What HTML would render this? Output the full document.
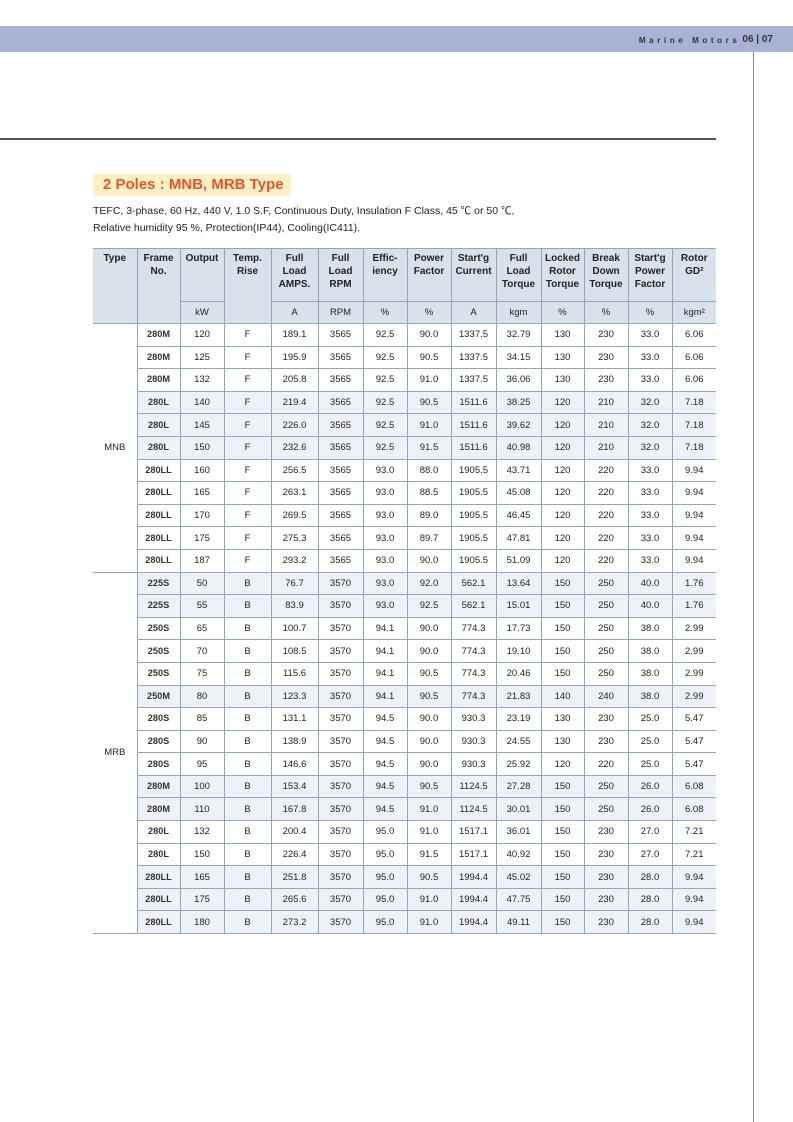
<!DOCTYPE html>
<html><head><meta charset="utf-8"><style>
*{margin:0;padding:0;box-sizing:border-box}
body{width:793px;height:1122px;background:#fff;position:relative;font-family:"Liberation Sans","Noto Sans CJK KR",sans-serif;color:#222;overflow:hidden}
.band{position:absolute;left:0;top:26px;width:793px;height:26px;background:#a9b3d6}
.band span{position:absolute;right:20px;top:9px;font-size:8px;font-weight:bold;color:#333;letter-spacing:3.6px}
.band b{font-size:10px;letter-spacing:0;margin-left:2px;top:-1px;position:relative}
.vline{position:absolute;left:753px;top:52px;width:1px;height:1070px;background:#7a86a8}
.hline{position:absolute;left:0;top:138px;width:716px;height:2px;background:#555}
.title{position:absolute;left:93px;top:174px;width:198px;height:22px;background:#fdf0c6;color:#e8542a;font-weight:bold;font-size:15px;line-height:22px;padding-left:10px;border-radius:2px}
.desc{position:absolute;left:93px;top:203px;font-size:10.5px;line-height:17px;color:#222}
table{position:absolute;left:93px;top:248px;border-collapse:collapse;table-layout:fixed;width:623px;font-size:9.5px}
td,th{border:1px solid #8fa6bf;text-align:center;vertical-align:middle;padding:0}
th{background:#d9e1eb;font-weight:bold;font-size:10px;line-height:13px;vertical-align:top;padding-top:3px}
tr.u th{font-weight:normal;vertical-align:middle;padding-top:0;height:22px;font-size:9.5px}
td{height:22.6px;line-height:11px}
td.t{border-left:none;border-top:none;border-bottom:none;background:#fff}
tr.g td.t{border-top:1px solid #8fa6bf}
tr.last td.t{border-bottom:1px solid #8fa6bf}
th.t{border-left:none}
th:last-child,td:last-child{border-right:none}
tr.s td:not(.t){background:#eef1f6}
td.f{font-weight:bold;color:#333;font-size:9.2px}
</style></head><body>
<div class="band"><span>Marine Motors<b>06 | 07</b></span></div>
<div class="vline"></div>
<div class="hline"></div>
<div class="title">2 Poles : MNB, MRB Type</div>
<div class="desc">TEFC, 3-phase, 60 Hz, 440 V, 1.0 S.F, Continuous Duty, Insulation F Class, 45 ℃ or 50 ℃,<br>Relative humidity 95 %, Protection(IP44), Cooling(IC411).</div>
<table>
<colgroup><col style="width:44px"><col style="width:43px"><col style="width:44px"><col style="width:47px"><col style="width:47px"><col style="width:45px"><col style="width:44px"><col style="width:44px"><col style="width:45px"><col style="width:45px"><col style="width:43px"><col style="width:44px"><col style="width:44px"><col style="width:44px"></colgroup>
<tr style="height:53px"><th class="t" rowspan="2">Type</th><th rowspan="2">Frame<br>No.</th><th>Output</th><th rowspan="2">Temp.<br>Rise</th><th>Full<br>Load<br>AMPS.</th><th>Full<br>Load<br>RPM</th><th>Effic-<br>iency</th><th>Power<br>Factor</th><th>Start'g<br>Current</th><th>Full<br>Load<br>Torque</th><th>Locked<br>Rotor<br>Torque</th><th>Break<br>Down<br>Torque</th><th>Start'g<br>Power<br>Factor</th><th>Rotor<br>GD²</th></tr>
<tr class="u"><th>kW</th><th>A</th><th>RPM</th><th>%</th><th>%</th><th>A</th><th>kgm</th><th>%</th><th>%</th><th>%</th><th>kgm²</th></tr>
<tr class="g"><td class="t" rowspan="11">MNB</td><td class="f">280M</td><td>120</td><td>F</td><td>189.1</td><td>3565</td><td>92.5</td><td>90.0</td><td>1337.5</td><td>32.79</td><td>130</td><td>230</td><td>33.0</td><td>6.06</td></tr>
<tr><td class="f">280M</td><td>125</td><td>F</td><td>195.9</td><td>3565</td><td>92.5</td><td>90.5</td><td>1337.5</td><td>34.15</td><td>130</td><td>230</td><td>33.0</td><td>6.06</td></tr>
<tr><td class="f">280M</td><td>132</td><td>F</td><td>205.8</td><td>3565</td><td>92.5</td><td>91.0</td><td>1337.5</td><td>36.06</td><td>130</td><td>230</td><td>33.0</td><td>6.06</td></tr>
<tr class="s"><td class="f">280L</td><td>140</td><td>F</td><td>219.4</td><td>3565</td><td>92.5</td><td>90.5</td><td>1511.6</td><td>38.25</td><td>120</td><td>210</td><td>32.0</td><td>7.18</td></tr>
<tr class="s"><td class="f">280L</td><td>145</td><td>F</td><td>226.0</td><td>3565</td><td>92.5</td><td>91.0</td><td>1511.6</td><td>39.62</td><td>120</td><td>210</td><td>32.0</td><td>7.18</td></tr>
<tr class="s"><td class="f">280L</td><td>150</td><td>F</td><td>232.6</td><td>3565</td><td>92.5</td><td>91.5</td><td>1511.6</td><td>40.98</td><td>120</td><td>210</td><td>32.0</td><td>7.18</td></tr>
<tr><td class="f">280LL</td><td>160</td><td>F</td><td>256.5</td><td>3565</td><td>93.0</td><td>88.0</td><td>1905.5</td><td>43.71</td><td>120</td><td>220</td><td>33.0</td><td>9.94</td></tr>
<tr><td class="f">280LL</td><td>165</td><td>F</td><td>263.1</td><td>3565</td><td>93.0</td><td>88.5</td><td>1905.5</td><td>45.08</td><td>120</td><td>220</td><td>33.0</td><td>9.94</td></tr>
<tr><td class="f">280LL</td><td>170</td><td>F</td><td>269.5</td><td>3565</td><td>93.0</td><td>89.0</td><td>1905.5</td><td>46.45</td><td>120</td><td>220</td><td>33.0</td><td>9.94</td></tr>
<tr><td class="f">280LL</td><td>175</td><td>F</td><td>275.3</td><td>3565</td><td>93.0</td><td>89.7</td><td>1905.5</td><td>47.81</td><td>120</td><td>220</td><td>33.0</td><td>9.94</td></tr>
<tr><td class="f">280LL</td><td>187</td><td>F</td><td>293.2</td><td>3565</td><td>93.0</td><td>90.0</td><td>1905.5</td><td>51.09</td><td>120</td><td>220</td><td>33.0</td><td>9.94</td></tr>
<tr class="g s last"><td class="t" rowspan="16">MRB</td><td class="f">225S</td><td>50</td><td>B</td><td>76.7</td><td>3570</td><td>93.0</td><td>92.0</td><td>562.1</td><td>13.64</td><td>150</td><td>250</td><td>40.0</td><td>1.76</td></tr>
<tr class="s"><td class="f">225S</td><td>55</td><td>B</td><td>83.9</td><td>3570</td><td>93.0</td><td>92.5</td><td>562.1</td><td>15.01</td><td>150</td><td>250</td><td>40.0</td><td>1.76</td></tr>
<tr><td class="f">250S</td><td>65</td><td>B</td><td>100.7</td><td>3570</td><td>94.1</td><td>90.0</td><td>774.3</td><td>17.73</td><td>150</td><td>250</td><td>38.0</td><td>2.99</td></tr>
<tr><td class="f">250S</td><td>70</td><td>B</td><td>108.5</td><td>3570</td><td>94.1</td><td>90.0</td><td>774.3</td><td>19.10</td><td>150</td><td>250</td><td>38.0</td><td>2.99</td></tr>
<tr><td class="f">250S</td><td>75</td><td>B</td><td>115.6</td><td>3570</td><td>94.1</td><td>90.5</td><td>774.3</td><td>20.46</td><td>150</td><td>250</td><td>38.0</td><td>2.99</td></tr>
<tr class="s"><td class="f">250M</td><td>80</td><td>B</td><td>123.3</td><td>3570</td><td>94.1</td><td>90.5</td><td>774.3</td><td>21.83</td><td>140</td><td>240</td><td>38.0</td><td>2.99</td></tr>
<tr><td class="f">280S</td><td>85</td><td>B</td><td>131.1</td><td>3570</td><td>94.5</td><td>90.0</td><td>930.3</td><td>23.19</td><td>130</td><td>230</td><td>25.0</td><td>5.47</td></tr>
<tr><td class="f">280S</td><td>90</td><td>B</td><td>138.9</td><td>3570</td><td>94.5</td><td>90.0</td><td>930.3</td><td>24.55</td><td>130</td><td>230</td><td>25.0</td><td>5.47</td></tr>
<tr><td class="f">280S</td><td>95</td><td>B</td><td>146.6</td><td>3570</td><td>94.5</td><td>90.0</td><td>930.3</td><td>25.92</td><td>120</td><td>220</td><td>25.0</td><td>5.47</td></tr>
<tr class="s"><td class="f">280M</td><td>100</td><td>B</td><td>153.4</td><td>3570</td><td>94.5</td><td>90.5</td><td>1124.5</td><td>27.28</td><td>150</td><td>250</td><td>26.0</td><td>6.08</td></tr>
<tr class="s"><td class="f">280M</td><td>110</td><td>B</td><td>167.8</td><td>3570</td><td>94.5</td><td>91.0</td><td>1124.5</td><td>30.01</td><td>150</td><td>250</td><td>26.0</td><td>6.08</td></tr>
<tr><td class="f">280L</td><td>132</td><td>B</td><td>200.4</td><td>3570</td><td>95.0</td><td>91.0</td><td>1517.1</td><td>36.01</td><td>150</td><td>230</td><td>27.0</td><td>7.21</td></tr>
<tr><td class="f">280L</td><td>150</td><td>B</td><td>226.4</td><td>3570</td><td>95.0</td><td>91.5</td><td>1517.1</td><td>40.92</td><td>150</td><td>230</td><td>27.0</td><td>7.21</td></tr>
<tr class="s"><td class="f">280LL</td><td>165</td><td>B</td><td>251.8</td><td>3570</td><td>95.0</td><td>90.5</td><td>1994.4</td><td>45.02</td><td>150</td><td>230</td><td>28.0</td><td>9.94</td></tr>
<tr class="s"><td class="f">280LL</td><td>175</td><td>B</td><td>265.6</td><td>3570</td><td>95.0</td><td>91.0</td><td>1994.4</td><td>47.75</td><td>150</td><td>230</td><td>28.0</td><td>9.94</td></tr>
<tr class="s"><td class="f">280LL</td><td>180</td><td>B</td><td>273.2</td><td>3570</td><td>95.0</td><td>91.0</td><td>1994.4</td><td>49.11</td><td>150</td><td>230</td><td>28.0</td><td>9.94</td></tr>
</table>
</body></html>
